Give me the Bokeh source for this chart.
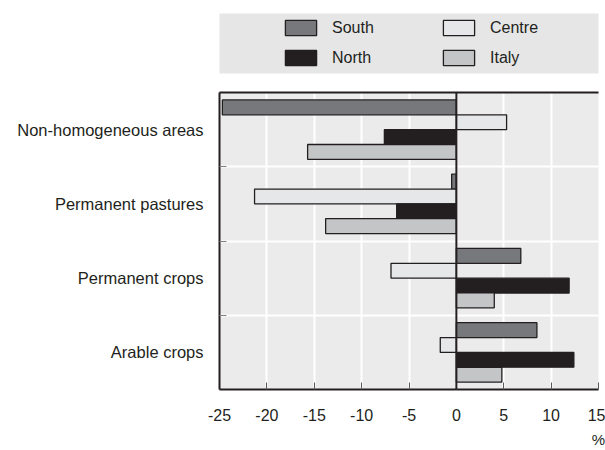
from bokeh.plotting import figure
from bokeh.models import Range1d, FixedTicker, LinearAxis, Span, Legend, LegendItem, ColumnDataSource
from bokeh.layouts import column
from bokeh.transform import dodge
from bokeh.embed import file_html
from bokeh.resources import INLINE

# ---- data (bottom to top) ----
categories = ["Arable crops", "Permanent crops", "Permanent pastures", "Non-homogeneous areas"]
series = ["South", "Centre", "North", "Italy"]
south = [8.5, 6.8, -0.5, -24.7]
centre = [-1.7, -6.9, -21.3, 5.3]
north = [12.4, 11.9, -6.3, -7.6]
italy = [4.8, 4.0, -13.8, -15.7]
x_ticks = [-25, -20, -15, -10, -5, 0, 5, 10, 15]

colors = ["#77787b", "#e6e7e8", "#231f20", "#c4c5c7"]
offsets = [0.3, 0.1, -0.1, -0.3]
FONT = "Liberation Sans"
TEXT = "#231f20"

centers = [i + 0.5 for i in range(len(categories))]
bounds = [i + 1 for i in range(len(categories) - 1)]

source = ColumnDataSource(dict(y=centers, South=south, Centre=centre, North=north, Italy=italy))

# ---- main plot ----
p = figure(width=605, height=366, x_range=Range1d(-25, 15), y_range=Range1d(0, len(categories)),
           output_backend="svg", toolbar_location=None,
           min_border_left=219, min_border_right=7, min_border_top=8, min_border_bottom=56,
           background_fill_color="#ebebeb", outline_line_color=None, border_fill_color="white")

for s, off, c in zip(series, offsets, colors):
    p.hbar(y=dodge("y", off), right=s, left=0, height=0.2, source=source,
           fill_color=c, line_color=TEXT, line_width=1.3)

p.add_layout(Span(location=0, dimension="height", line_color=TEXT, line_width=2))

xa = p.xaxis[0]
xa.ticker = FixedTicker(ticks=x_ticks)
xa.major_label_overrides = {t: str(t) for t in x_ticks}
xa.major_tick_in = 7
xa.major_tick_out = 0
xa.major_tick_line_color = "#58595b"
xa.minor_tick_line_color = None
xa.axis_line_color = TEXT
xa.axis_line_width = 2
xa.major_label_text_font = FONT
xa.major_label_text_font_size = "16px"
xa.major_label_text_color = TEXT
xa.major_label_standoff = 19
xa.axis_label = "%"
xa.axis_label_text_font = FONT
xa.axis_label_text_font_size = "15px"
xa.axis_label_text_font_style = "normal"
xa.axis_label_text_color = TEXT
xa.axis_label_standoff = 7
try:
    xa.axis_label_align = "end"
except Exception:
    pass

ya = p.yaxis[0]
ya.ticker = FixedTicker(ticks=centers, minor_ticks=bounds)
ya.major_label_overrides = {c: lab for c, lab in zip(centers, categories)}
ya.major_tick_line_color = None
ya.minor_tick_in = 7
ya.minor_tick_out = 0
ya.minor_tick_line_color = "#808080"
ya.axis_line_color = TEXT
ya.axis_line_width = 2
ya.major_label_text_font = FONT
ya.major_label_text_font_size = "16.5px"
ya.major_label_text_color = TEXT
ya.major_label_standoff = 10

top = LinearAxis(ticker=FixedTicker(ticks=[]), axis_line_color=TEXT, axis_line_width=2,
                 major_tick_line_color=None, minor_tick_line_color=None,
                 major_label_text_font_size="0px", major_label_standoff=0)
p.add_layout(top, "above")

p.xgrid[0].ticker = FixedTicker(ticks=x_ticks)
p.xgrid[0].grid_line_color = "white"
p.xgrid[0].grid_line_width = 2
p.ygrid[0].ticker = FixedTicker(ticks=bounds)
p.ygrid[0].grid_line_color = "white"
p.ygrid[0].grid_line_width = 2

# ---- legend band (hidden legend-only renderers on the same data) ----
lf = figure(width=605, height=84, x_range=Range1d(-25, 15), y_range=Range1d(0, len(categories)),
            output_backend="svg", toolbar_location=None,
            min_border_left=219, min_border_right=0, min_border_top=13, min_border_bottom=11,
            background_fill_color="#e6e6e6", outline_line_color=None,
            x_axis_type=None, y_axis_type=None)
lf.grid.visible = False
items = []
for s, off, c in zip(series, offsets, colors):
    r = lf.hbar(y=dodge("y", off), right=s, left=0, height=0.2, source=source,
                fill_color=c, line_color=TEXT, line_width=1.3)
    r.visible = False
    items.append(LegendItem(label=s, renderers=[r]))
legend = Legend(items=items, location=(62, 6), orientation="horizontal", ncols=2,
                padding=0, margin=0, border_line_color=None, background_fill_alpha=0,
                glyph_width=39, glyph_height=19, label_standoff=12, label_width=96,
                label_height=19, spacing=11, click_policy="none",
                label_text_font=FONT, label_text_font_size="16px", label_text_color=TEXT)
lf.add_layout(legend)

layout = column(lf, p, spacing=0)
open("out.html", "w").write(file_html(layout, INLINE))
